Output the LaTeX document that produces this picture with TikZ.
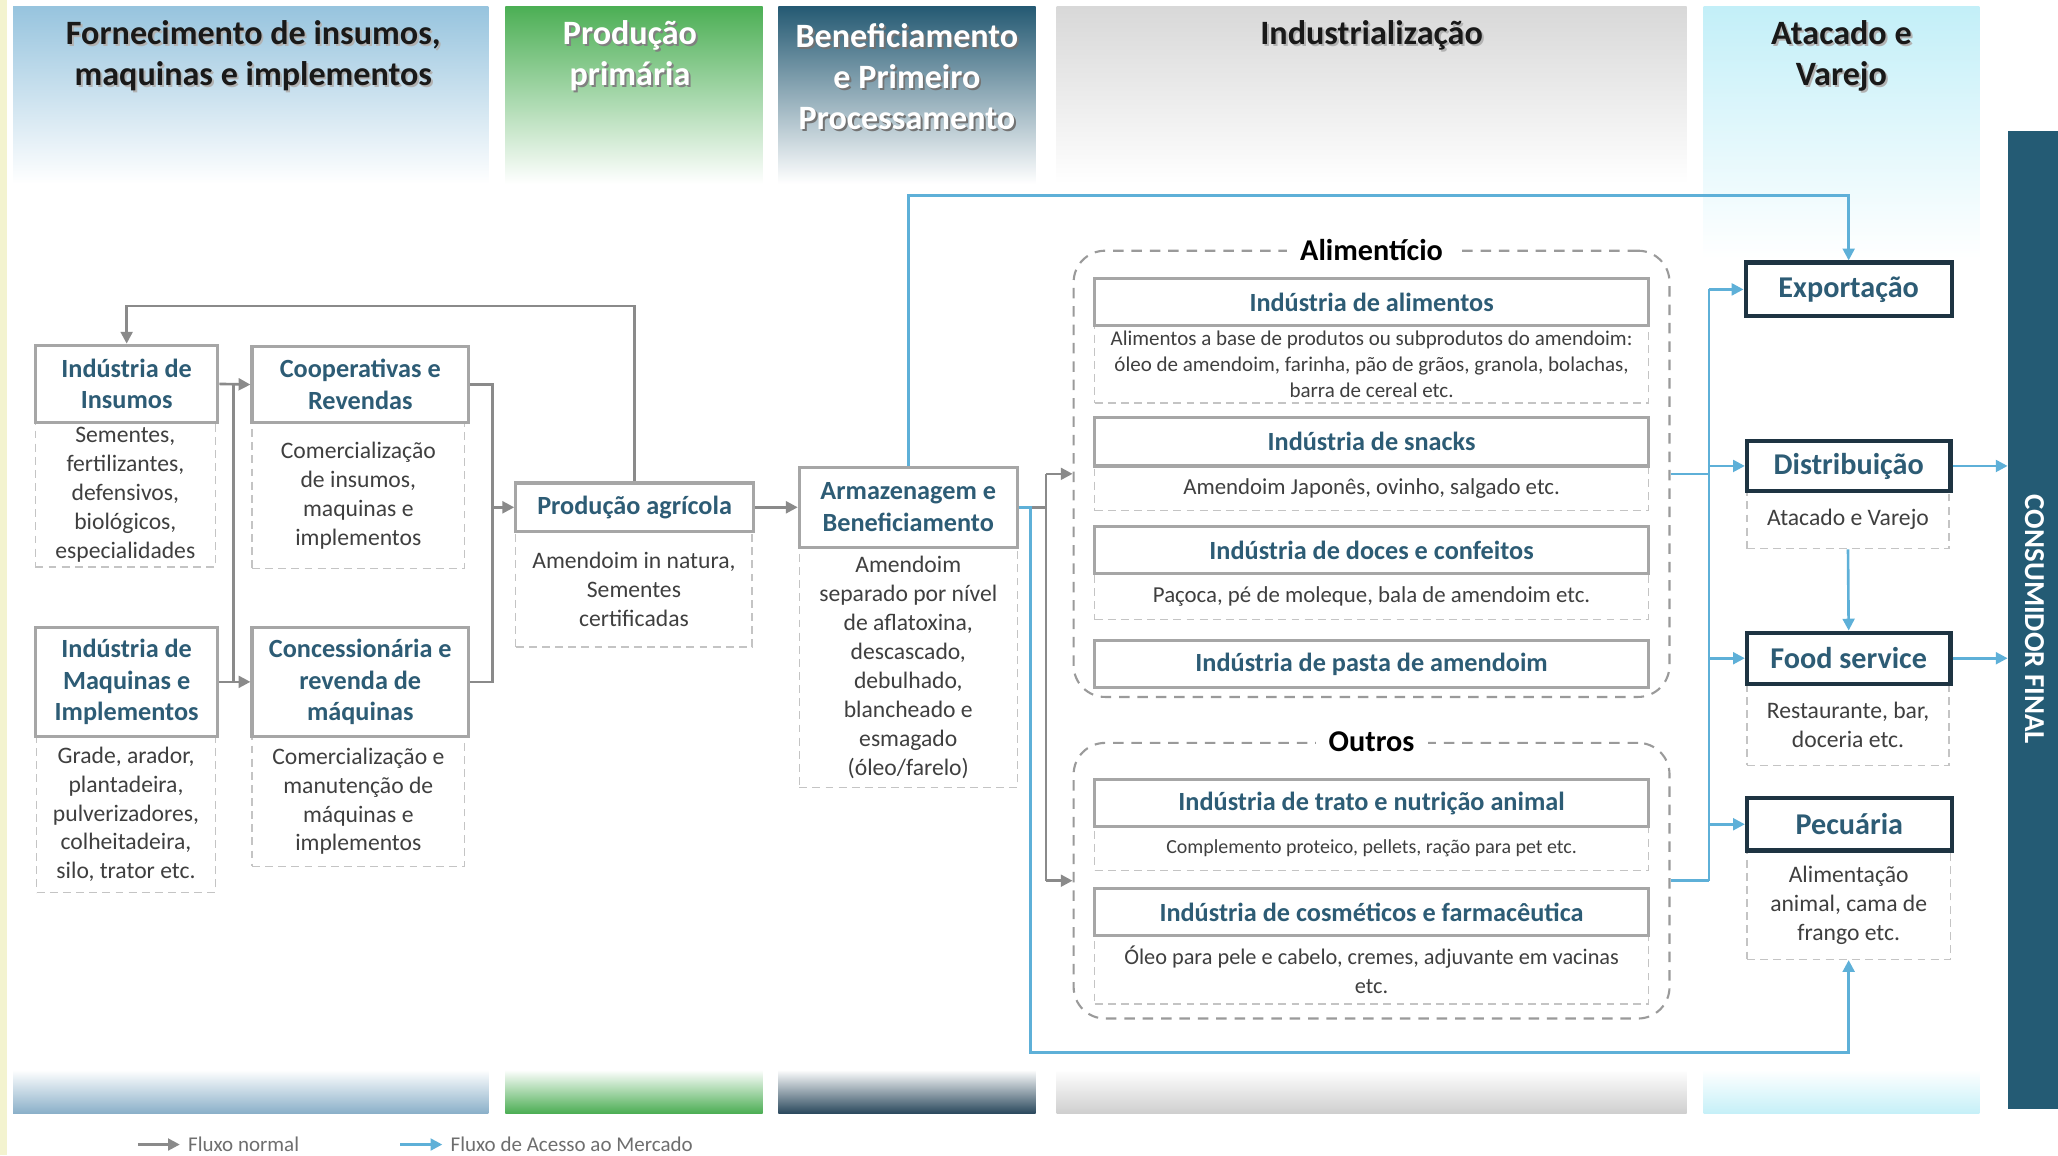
\documentclass[tikz,border=0pt]{standalone}
\usepackage{fontspec}
\setmainfont{Carlito}
\usetikzlibrary{arrows.meta}
\definecolor{hA}{HTML}{97C4DE}
\definecolor{hB}{HTML}{4CAF55}
\definecolor{hC}{HTML}{255A73}
\definecolor{hD}{HTML}{D8D8D8}
\definecolor{hE}{HTML}{C3EFF8}
\definecolor{bA}{HTML}{8BB0C9}
\definecolor{bB}{HTML}{4DAE55}
\definecolor{bC}{HTML}{2C4A5E}
\definecolor{bD}{HTML}{CFCFCF}
\definecolor{bE}{HTML}{C6F0F8}
\definecolor{barcol}{HTML}{245B74}
\definecolor{lblue}{HTML}{5EB0D8}
\definecolor{lgray}{HTML}{8A8A8A}
\definecolor{titlecol}{HTML}{2D5C75}
\definecolor{rbord}{HTML}{1E3442}
\definecolor{boxgray}{HTML}{A6A6A6}
\definecolor{dashgray}{HTML}{C4C4C4}
\definecolor{contgray}{HTML}{9A9A9A}
\definecolor{desccol}{HTML}{3F3F3F}
\definecolor{lgdcol}{HTML}{6E6E6E}
\definecolor{yel}{HTML}{F3F3CF}
\newcommand{\mkbox}[7]{\node[#2, minimum width={(#5-#3)*0.5pt}, minimum height={(#6-#4)*0.5pt}] (#1) at ({(#3+#5)/2},{(#4+#6)/2}) {#7};}
\begin{document}
\begin{tikzpicture}[x=0.5pt,y=-0.5pt,
  ttl/.style={draw=boxgray, line width=1.2pt, fill=white, text=titlecol, font=\bfseries\fontsize{10}{12}\selectfont, align=center, inner sep=0pt},
  dsc/.style={draw=dashgray, line width=0.5pt, dash pattern=on 3pt off 2pt, fill=white, text=desccol, font=\fontsize{9}{11}\selectfont, align=center, inner sep=0pt},
  rbox/.style={draw=rbord, line width=1.6pt, fill=white, text=titlecol, font=\bfseries\fontsize{11.5}{13}\selectfont, align=center, inner sep=0pt},
  cont/.style={draw=contgray, line width=0.8pt, dash pattern=on 4pt off 3pt, rounded corners=12pt, inner sep=0pt},
  clbl/.style={fill=white, text=black, font=\bfseries\fontsize{11.5}{13}\selectfont, inner xsep=5pt, inner ysep=1pt},
  hdr/.style={font=\bfseries\fontsize{13}{15.5}\selectfont, align=center, inner sep=0pt},
  gline/.style={draw=lgray, line width=1pt},
  bline/.style={draw=lblue, line width=1pt},
  arr/.style={-{Triangle[length=4.5pt,width=4.5pt]}},
  lgd/.style={font=\fontsize{8}{9}\selectfont, text=lgdcol, anchor=west, inner sep=0pt}
]
\useasboundingbox (0,0) rectangle (1568,880);
\fill[white] (0,0) rectangle (1568,880);
\fill[yel] (0,0) rectangle (5,880);
% header bands
\shade[top color=hA, bottom color=white] (10,5) rectangle (372,140);
\shade[top color=hB, bottom color=white] (385,5) rectangle (581,140);
\shade[top color=hC, bottom color=white] (593,5) rectangle (789,140);
\shade[top color=hD, bottom color=white] (805,5) rectangle (1285,140);
\shade[top color=hE, bottom color=white] (1298,5) rectangle (1508,197);
% bottom bands
\shade[top color=white, bottom color=bA] (10,815) rectangle (372,848);
\shade[top color=white, bottom color=bB] (385,815) rectangle (581,848);
\shade[top color=white, bottom color=bC] (593,815) rectangle (789,848);
\shade[top color=white, bottom color=bD] (805,815) rectangle (1285,848);
\shade[top color=white, bottom color=bE] (1298,815) rectangle (1508,848);
% header texts
\node[hdr, text=black!30] (h1s) at (194.5,44) {Fornecimento de insumos,\\maquinas e implementos};
\node[hdr, text=black!90] (h1) at (193,42.5) {Fornecimento de insumos,\\maquinas e implementos};
\node[hdr, text=black!50] (h2s) at (481.5,44) {Produção\\primária};
\node[hdr, text=white] (h2) at (480,42.5) {Produção\\primária};
\node[hdr, text=black!55] (h3s) at (692.5,60) {Beneficiamento\\e Primeiro\\Processamento};
\node[hdr, text=white] (h3) at (691,58.5) {Beneficiamento\\e Primeiro\\Processamento};
\node[hdr, text=black!30] (h4s) at (1046.5,28.5) {Industrialização};
\node[hdr, text=black!90] (h4) at (1045,27) {Industrialização};
\node[hdr, text=black!30] (h5s) at (1404.5,44) {Atacado e\\Varejo};
\node[hdr, text=black!90] (h5) at (1403,42.5) {Atacado e\\Varejo};
% consumer bar
\mkbox{cons}{fill=barcol, inner sep=0pt}{1530}{100}{1568}{845}{}
\node[rotate=-90, text=white, font=\bfseries\fontsize{11}{13}\selectfont, inner sep=0pt] (constxt) at (1550,472) {CONSUMIDOR FINAL};
% left boxes
\mkbox{insd}{dsc}{27}{322}{164}{432}{Sementes,\\fertilizantes,\\defensivos,\\biológicos,\\especialidades}
\mkbox{ins}{ttl}{27}{263}{166}{322}{Indústria de\\Insumos}
\mkbox{maqd}{dsc}{28}{561}{164}{680}{Grade, arador,\\plantadeira,\\pulverizadores,\\colheitadeira,\\silo, trator etc.}
\mkbox{maq}{ttl}{27}{478}{166}{561}{Indústria de\\Maquinas e\\Implementos}
\mkbox{coopd}{dsc}{192}{322}{354}{433}{Comercialização\\de insumos,\\maquinas e\\implementos}
\mkbox{coop}{ttl}{192}{264}{357}{322}{Cooperativas e\\Revendas}
\mkbox{concd}{dsc}{192}{561}{354}{660}{Comercialização e\\manutenção de\\máquinas e\\implementos}
\mkbox{conc}{ttl}{192}{478}{357}{561}{Concessionária e\\revenda de\\máquinas}
\mkbox{prodd}{dsc}{393}{405}{573}{493}{Amendoim in natura,\\Sementes\\certificadas}
\mkbox{prod}{ttl}{393}{368}{574}{405}{Produção agrícola}
\mkbox{armd}{dsc}{609}{417}{775}{600}{Amendoim\\separado por nível\\de aflatoxina,\\descascado,\\debulhado,\\blancheado e\\esmagado\\(óleo/farelo)}
\mkbox{arm}{ttl}{609}{356}{775}{417}{Armazenagem e\\Beneficiamento}
% industrialization
\mkbox{alim}{cont}{818}{191}{1272}{531}{}
\mkbox{outr}{cont}{818}{566}{1272}{776}{}
\node[clbl] (alimlbl) at (alim.north) {Alimentício};
\node[clbl] (outrlbl) at (outr.north) {Outros};
\mkbox{ialid}{dsc, font=\fontsize{8}{10}\selectfont}{834}{248}{1256}{307}{Alimentos a base de produtos ou subprodutos do amendoim:\\óleo de amendoim, farinha, pão de grãos, granola, bolachas,\\barra de cereal etc.}
\mkbox{iali}{ttl}{834}{212}{1256}{248}{Indústria de alimentos}
\mkbox{isnad}{dsc, font=\fontsize{8.7}{10}\selectfont}{834}{355}{1256}{389}{Amendoim Japonês, ovinho, salgado etc.}
\mkbox{isna}{ttl}{834}{318}{1256}{355}{Indústria de snacks}
\mkbox{idocd}{dsc, font=\fontsize{8.7}{10}\selectfont}{834}{437}{1256}{472}{Paçoca, pé de moleque, bala de amendoim etc.}
\mkbox{idoc}{ttl}{834}{401}{1256}{437}{Indústria de doces e confeitos}
\mkbox{ipas}{ttl}{834}{488}{1256}{524}{Indústria de pasta de amendoim}
\mkbox{itrad}{dsc, font=\fontsize{7.6}{9}\selectfont}{834}{630}{1256}{663}{Complemento proteico, pellets, ração para pet etc.}
\mkbox{itra}{ttl}{834}{594}{1256}{630}{Indústria de trato e nutrição animal}
\mkbox{icosd}{dsc, font=\fontsize{8.5}{11}\selectfont}{834}{713}{1256}{765}{Óleo para pele e cabelo, cremes, adjuvante em vacinas\\etc.}
\mkbox{icos}{ttl}{834}{677}{1256}{713}{Indústria de cosméticos e farmacêutica}
% right boxes
\mkbox{exp}{rbox}{1330}{200}{1487}{241}{Exportação}
\mkbox{distd}{dsc}{1331}{374}{1485}{418}{Atacado e Varejo}
\mkbox{dist}{rbox}{1331}{336}{1486}{374}{Distribuição}
\mkbox{foodd}{dsc}{1331}{521}{1485}{583}{Restaurante, bar,\\doceria etc.}
\mkbox{food}{rbox}{1331}{482}{1486}{521}{Food service}
\mkbox{pecd}{dsc}{1331}{648}{1486}{731}{Alimentação\\animal, cama de\\frango etc.}
\mkbox{pec}{rbox}{1331}{608}{1487}{648}{Pecuária}
% helper coordinates
\coordinate (fbk) at (300,233);
\coordinate (vxa) at (178,0);
\coordinate (vxb) at (375,0);
\coordinate (vxc) at (797,0);
\coordinate (vxd) at (785,0);
\coordinate (topb) at (1000,149);
\coordinate (botb) at (1000,802);
\coordinate (busx) at (1302,0);
% gray connectors
\draw[gline,arr] (prod.north) |- (fbk) -| (ins.north);
\draw[gline,arr] (ins.east) -- (coop.west);
\draw[gline,arr] (maq.east) -- (conc.west);
\draw[gline] (ins.east -| vxa) -- (maq.east -| vxa);
\draw[gline] (coop.east) -| (conc.east -| vxb) -- (conc.east);
\draw[gline,arr] (prod.west -| vxb) -- (prod.west);
\draw[gline,arr] (prod.east) -- (arm.west);
\draw[gline] (arm.east) -- (arm.east -| vxc);
\draw[gline] (alim.west -| vxc) -- (outr.west -| vxc);
\draw[gline,arr] (alim.west -| vxc) -- (alim.west);
\draw[gline,arr] (outr.west -| vxc) -- (outr.west);
% blue connectors
\draw[bline,arr] (arm.north) |- (topb) -| (exp.north);
\draw[bline,arr] (arm.east) -- (arm.east -| vxd) |- (botb) -| (pecd.south);
\draw[bline] (alim.east) -- (alim.east -| busx);
\draw[bline] (outr.east) -- (outr.east -| busx);
\draw[bline] (exp.west -| busx) -- (outr.east -| busx);
\draw[bline,arr] (exp.west -| busx) -- (exp.west);
\draw[bline,arr] (dist.west -| busx) -- (dist.west);
\draw[bline,arr] (food.west -| busx) -- (food.west);
\draw[bline,arr] (pec.west -| busx) -- (pec.west);
\draw[bline,arr] (distd.south) -- (food.north);
\draw[bline,arr] (dist.east) -- (dist.east -| cons.west);
\draw[bline,arr] (food.east) -- (food.east -| cons.west);
% legend
\coordinate (lga1) at (105,872);
\coordinate (lga2) at (137,872);
\coordinate (lgb1) at (305,872);
\coordinate (lgb2) at (337,872);
\draw[gline,arr] (lga1) -- (lga2);
\draw[bline,arr] (lgb1) -- (lgb2);
\node[lgd] (lgt1) at (143,872) {Fluxo normal};
\node[lgd] (lgt2) at (343,872) {Fluxo de Acesso ao Mercado};
\end{tikzpicture}
\end{document}
